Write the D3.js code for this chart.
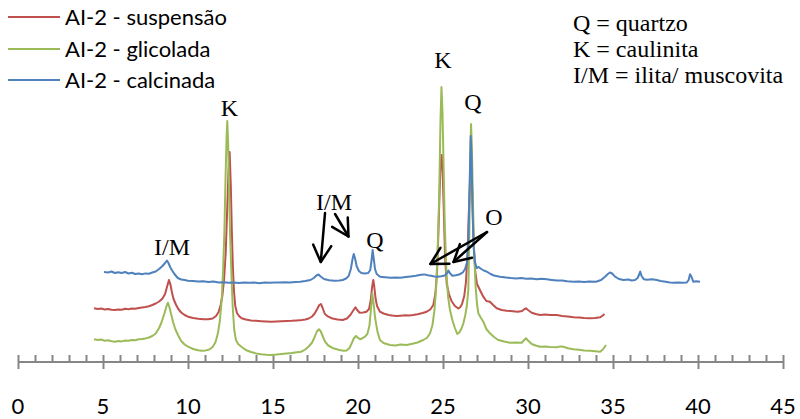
<!DOCTYPE html>
<html>
<head>
<meta charset="utf-8">
<script src="https://cdn.jsdelivr.net/npm/d3@7"></script>
<style>
  html, body { margin: 0; padding: 0; background: #fff; }
  svg { display: block; }
</style>
</head>
<body>
<svg id="chart" width="800" height="419"></svg>
<script>
// X-ray diffraction patterns of sample AI-2: [2θ (degrees), intensity (offset, arbitrary units)]
const suspensao = [
  [4.47,53.7],[4.7,53],[4.9,53.5],[5.1,52.5],[5.3,53],[5.5,52.2],[5.7,52],[5.9,52.6],[6.1,52.3],[6.3,53.2],
  [6.5,52.8],[6.7,53.5],[6.9,53.2],[7.1,54],[7.3,54.5],[7.5,55],[7.7,55.8],[7.9,57],[8.1,58.5],[8.3,60.5],
  [8.5,63.5],[8.65,68],[8.78,76],[8.88,82],[8.96,78],[9.05,70],[9.15,63],[9.3,57],[9.45,52.5],[9.6,49.5],
  [9.8,47],[10.0,45.3],[10.3,44],[10.6,43.2],[10.9,42.8],[11.2,42.7],[11.45,43.5],[11.65,46],[11.8,50],[11.92,57],
  [12.02,66],[12.12,82],[12.22,110],[12.3,150],[12.38,190],[12.45,210],[12.52,175],[12.58,130],[12.64,95],[12.7,72],
  [12.78,56],[12.88,49],[13.0,46],[13.15,43.7],[13.4,42.5],[13.7,41.5],[14.0,41.2],[14.3,40.8],[14.6,40.5],[14.9,40.3],
  [15.2,40.6],[15.5,40.8],[15.8,41],[16.1,41.2],[16.4,41.6],[16.7,42],[16.9,42.5],[17.1,43.5],[17.3,45.5],[17.45,48.5],
  [17.6,53],[17.72,57],[17.82,58],[17.92,54],[18.05,48],[18.25,45.3],[18.5,43.5],[18.8,42.5],[19.1,42],[19.35,43.5],
  [19.55,47],[19.7,51],[19.85,54.7],[19.95,52],[20.1,49.3],[20.3,49.6],[20.5,50.3],[20.65,53],[20.75,62],[20.83,75],
  [20.9,82],[20.96,75],[21.03,64],[21.12,56],[21.29,50.3],[21.5,48.5],[21.8,47],[22.0,46.5],[22.27,46],[22.5,46.3],
  [22.8,46.8],[23.0,46.5],[23.25,47],[23.5,47.8],[23.8,49],[24.04,50.3],[24.25,52.5],[24.43,57],[24.55,68],[24.65,90],
  [24.73,130],[24.8,170],[24.86,198],[24.92,207],[24.98,190],[25.05,150],[25.12,105],[25.22,78],[25.35,68],[25.5,61],
  [25.7,56],[25.9,53.5],[26.02,55],[26.12,58],[26.25,66],[26.35,80],[26.45,110],[26.52,150],[26.6,185],[26.66,195],
  [26.72,170],[26.8,120],[26.9,90],[27.0,78],[27.08,75.3],[27.2,71],[27.37,65.3],[27.55,61],[27.76,60.3],[27.95,57],
  [28.16,53.7],[28.45,52],[28.75,51.3],[29.1,50.8],[29.4,50.3],[29.65,51],[29.8,53],[29.88,53.7],[30.0,52],[30.22,49.3],
  [30.45,48],[30.71,47],[31.0,47.5],[31.3,47],[31.69,47],[32.0,46],[32.35,45.5],[32.67,44.7],[33.0,44.5],[33.3,44],
  [33.65,43.7],[33.95,44],[34.24,44.7],[34.4,46.5],[34.5,48]
];

const glicolada = [
  [4.47,22.7],[4.7,22],[4.9,22.5],[5.1,21.3],[5.3,21.8],[5.5,20.8],[5.7,20.3],[5.9,21],[6.1,20.6],[6.3,21.5],
  [6.5,21.2],[6.7,22],[6.9,21.8],[7.1,22.7],[7.3,23],[7.5,23.6],[7.7,24.5],[7.9,26],[8.1,28.5],[8.3,34],
  [8.45,40],[8.6,48],[8.72,55],[8.82,59.3],[8.92,54],[9.02,47],[9.12,40],[9.25,33],[9.41,27],[9.6,21],
  [9.8,17.5],[10.0,15.3],[10.3,13],[10.6,11.8],[10.8,11.3],[11.05,11.6],[11.25,12.5],[11.45,15],[11.62,20],[11.76,28.7],
  [11.88,42],[11.98,62],[12.06,90],[12.14,130],[12.21,185],[12.27,225],[12.31,241],[12.36,220],[12.42,170],[12.48,125],
  [12.55,90],[12.63,55],[12.72,32],[12.82,22],[12.95,18],[13.14,15.3],[13.4,12],[13.7,10],[14.0,8.6],[14.3,7.8],
  [14.6,7.3],[14.9,7],[15.2,7.4],[15.5,8],[15.8,8.5],[16.1,9],[16.4,9.8],[16.67,10.3],[16.9,12.5],[17.1,15.5],
  [17.3,19.5],[17.45,25],[17.58,30.5],[17.7,32.7],[17.8,31],[17.92,26],[18.06,20.3],[18.25,16.5],[18.55,13.7],[18.9,12],
  [19.15,11.3],[19.33,11.5],[19.5,14],[19.63,18.7],[19.75,23.5],[19.88,26],[19.98,24.5],[20.12,22.7],[20.28,24],[20.41,25.3],
  [20.55,28],[20.67,36],[20.76,52],[20.84,68.7],[20.92,58],[21.0,45],[21.06,38.7],[21.15,30],[21.29,22],[21.5,19],
  [21.88,17],[22.2,16.5],[22.5,17.5],[22.86,17],[23.2,18.2],[23.5,19.5],[23.84,22],[24.05,24],[24.24,28.7],[24.38,37],
  [24.5,52],[24.6,75],[24.7,120],[24.78,169],[24.85,240],[24.91,275],[24.97,250],[25.03,200],[25.1,140],[25.2,90],
  [25.3,65],[25.41,52],[25.55,42],[25.7,34],[25.84,28],[25.98,30],[26.1,34],[26.2,38.7],[26.3,46],[26.4,56],
  [26.49,72],[26.55,130],[26.6,205],[26.65,238],[26.7,215],[26.76,160],[26.83,110],[26.92,75],[27.0,58],[27.08,48.7],
  [27.2,45],[27.37,40.3],[27.55,33],[27.76,28.7],[28.0,25],[28.25,22],[28.6,20.5],[28.94,19.3],[29.3,19.5],[29.63,19.3],
  [29.78,22],[29.88,23.7],[30.0,21.5],[30.22,18],[30.45,16.5],[30.71,15.3],[31.0,15.5],[31.3,15],[31.69,14.7],[31.9,15.6],
  [32.08,15.3],[32.35,13.8],[32.67,12.7],[33.0,12.3],[33.3,11.5],[33.65,11.3],[33.95,10.8],[34.24,10.3],[34.4,12.5],[34.59,17]
];

const calcinada = [
  [5.06,90],[5.3,89.5],[5.5,90.5],[5.7,89],[5.9,89.8],[6.1,89],[6.3,90],[6.5,88.5],[6.7,89.3],[6.9,88],
  [7.1,88.5],[7.3,87.8],[7.5,88.6],[7.7,88.2],[7.9,89.5],[8.1,90.5],[8.3,93],[8.5,96],[8.65,99],[8.76,101.5],
  [8.85,99],[8.95,95],[9.05,92],[9.2,88],[9.4,84],[9.6,82.5],[9.8,82],[10.0,81.3],[10.3,81],[10.6,80.5],
  [10.9,80.8],[11.2,80],[11.5,80.4],[11.8,79.6],[12.1,79.8],[12.4,79.2],[12.7,79.6],[13.0,79],[13.3,79.5],[13.6,79.2],
  [13.9,79.4],[14.2,78.8],[14.5,79.5],[14.8,79.2],[15.1,79.6],[15.4,79.4],[15.7,79.8],[16.0,79.6],[16.3,80],[16.6,80.3],
  [16.9,81],[17.2,82],[17.4,84],[17.55,86.5],[17.68,87.5],[17.8,85.5],[18.0,83],[18.3,81.8],[18.6,81.3],[18.9,81.5],
  [19.1,82],[19.3,83.5],[19.45,86],[19.58,93],[19.68,103],[19.75,108],[19.82,104],[19.92,96],[20.05,91],[20.2,89],
  [20.4,88.5],[20.6,89],[20.72,92],[20.8,102],[20.86,112],[20.92,104],[21.0,93],[21.1,88],[21.3,85.3],[21.6,84.8],
  [21.9,84.3],[22.2,84.6],[22.5,84.2],[22.8,85],[23.1,85.6],[23.4,86.3],[23.7,87.2],[23.9,87.6],[24.1,86.8],[24.3,86.2],
  [24.5,85.6],[24.7,85.2],[24.9,85.8],[25.1,86.5],[25.25,89],[25.32,91.5],[25.4,89],[25.55,86.3],[25.75,86.8],[25.95,87.5],
  [26.15,89.3],[26.3,93],[26.42,100],[26.5,125],[26.57,180],[26.63,226],[26.68,205],[26.74,150],[26.8,115],[26.88,100],
  [26.98,94],[27.1,95],[27.25,93],[27.4,91.5],[27.57,90.3],[27.8,88],[28.0,86.5],[28.35,85.3],[28.7,84.6],[29.0,84],
  [29.3,83.6],[29.6,84],[29.9,83.2],[30.2,83.6],[30.5,82.8],[30.8,83.3],[31.1,82.7],[31.4,82],[31.7,81.4],[32.0,81.6],
  [32.3,80.8],[32.67,80.3],[33.0,80.6],[33.3,80],[33.6,80.4],[34.0,80.3],[34.3,82],[34.53,85.3],[34.7,88],[34.82,89.5],
  [34.95,88.5],[35.12,85.3],[35.35,83],[35.61,82],[35.9,82.5],[36.1,81.5],[36.3,82],[36.45,84],[36.55,88],[36.6,90.5],
  [36.68,86],[36.82,82.7],[37.0,82.3],[37.3,82.8],[37.57,82],[37.8,81],[38.1,80.2],[38.35,79.6],[38.55,79.3],[38.8,79.5],
  [39.1,79.2],[39.33,79.4],[39.45,82],[39.53,87.7],[39.6,86],[39.72,80.3],[39.9,80.8],[40.12,80.3]
];

const seriesNames = ["AI-2 - suspensão", "AI-2 - glicolada", "AI-2 - calcinada"];
const seriesColors = ["#C0504D", "#9BBB59", "#4F81BD"];

const xTickLabels = [0, 5, 10, 15, 20, 25, 30, 35, 40, 45];

const keyLines = ["Q = quartzo", "K = caulinita", "I/M = ilita/ muscovita"];

// Peak labels: [text, 2θ, intensity at baseline]
const peakLabels = [
  ["I/M", 9.06, 107], ["K", 12.43, 246], ["I/M", 18.59, 152], ["Q", 21.0, 114],
  ["K", 25.0, 294], ["Q", 26.76, 252], ["O", 28.0, 137]
];

// Arrows: [from 2θ, from intensity, to 2θ, to intensity]
const arrows = [
  [18.06, 149, 17.81, 100],
  [18.65, 148, 19.44, 125.5],
  [27.59, 130, 24.26, 98],
  [27.59, 130, 25.62, 100]
];

const svg = d3.select("#chart");

const x = d3.scaleLinear().domain([0, 45]).range([18, 783]);
const y = d3.scaleLinear().domain([0, 362]).range([362, 0]);

const line = d3.line().x(d => x(d[0])).y(d => y(d[1]));

// axis: minor ticks every degree, longer crossing ticks every 5°
const axisColor = "#868686";
const axisG = svg.append("g");
axisG.append("line")
  .attr("x1", x(0)).attr("x2", x(45))
  .attr("y1", y(0)).attr("y2", y(0))
  .attr("stroke", axisColor).attr("stroke-width", 2);

const minorTicks = d3.range(0, 46, 1);
axisG.selectAll("line.tick")
  .data(minorTicks)
  .join("line")
  .attr("class", "tick")
  .attr("x1", d => Math.round(x(d)) + 0.5).attr("x2", d => Math.round(x(d)) + 0.5)
  .attr("y1", y(0) - 7)
  .attr("y2", d => d % 5 === 0 ? y(0) + 7 : y(0))
  .attr("stroke", axisColor).attr("stroke-width", 2);

axisG.selectAll("text.tl")
  .data(xTickLabels)
  .join("text")
  .attr("class", "tl")
  .attr("x", d => x(d))
  .attr("y", 414)
  .attr("text-anchor", "middle")
  .attr("font-family", "Lato, 'Open Sans', sans-serif")
  .attr("font-size", 22)
  .attr("fill", "#000")
  .text(d => d);

// patterns (calcinada drawn last, on top)
const allSeries = [suspensao, glicolada, calcinada];
svg.append("g").selectAll("path")
  .data(allSeries)
  .join("path")
  .attr("d", line)
  .attr("fill", "none")
  .attr("stroke", (d, i) => seriesColors[i])
  .attr("stroke-width", 2)
  .attr("stroke-linejoin", "round");

// legend
const legendY = [17, 49, 80];
const lg = svg.append("g");
seriesNames.forEach((name, i) => {
  lg.append("line")
    .attr("x1", 8).attr("x2", 60)
    .attr("y1", legendY[i]).attr("y2", legendY[i])
    .attr("stroke", seriesColors[i]).attr("stroke-width", 2);
  lg.append("text")
    .attr("x", 65).attr("y", legendY[i])
    .attr("dy", "0.36em")
    .attr("font-family", "Lato, 'Open Sans', sans-serif")
    .attr("font-size", 22)
    .attr("fill", "#000")
    .text(name);
});

// mineral key
const serif = "'Liberation Serif', 'Times New Roman', serif";
svg.append("g").selectAll("text")
  .data(keyLines)
  .join("text")
  .attr("x", 573)
  .attr("y", (d, i) => 31 + i * 26)
  .attr("font-family", serif)
  .attr("font-size", 24)
  .attr("fill", "#000")
  .text(d => d);

// peak labels
svg.append("g").selectAll("text")
  .data(peakLabels)
  .join("text")
  .attr("x", d => x(d[1]))
  .attr("y", d => y(d[2]))
  .attr("text-anchor", "middle")
  .attr("font-family", serif)
  .attr("font-size", 24)
  .attr("fill", "#000")
  .text(d => d[0]);

// arrows with open V heads
const ag = svg.append("g").attr("stroke", "#000").attr("stroke-width", 2.5)
  .attr("fill", "none").attr("stroke-linecap", "round").attr("stroke-linejoin", "round");
arrows.forEach(a => {
  const x1 = x(a[0]), y1 = y(a[1]), x2 = x(a[2]), y2 = y(a[3]);
  const ang = Math.atan2(y2 - y1, x2 - x1);
  const len = 19, spread = 0.5;
  ag.append("line").attr("x1", x1).attr("y1", y1).attr("x2", x2).attr("y2", y2);
  ag.append("path").attr("d",
    `M${x2 - len * Math.cos(ang - spread)},${y2 - len * Math.sin(ang - spread)}` +
    `L${x2},${y2}` +
    `L${x2 - len * Math.cos(ang + spread)},${y2 - len * Math.sin(ang + spread)}`);
});
</script>
</body>
</html>
